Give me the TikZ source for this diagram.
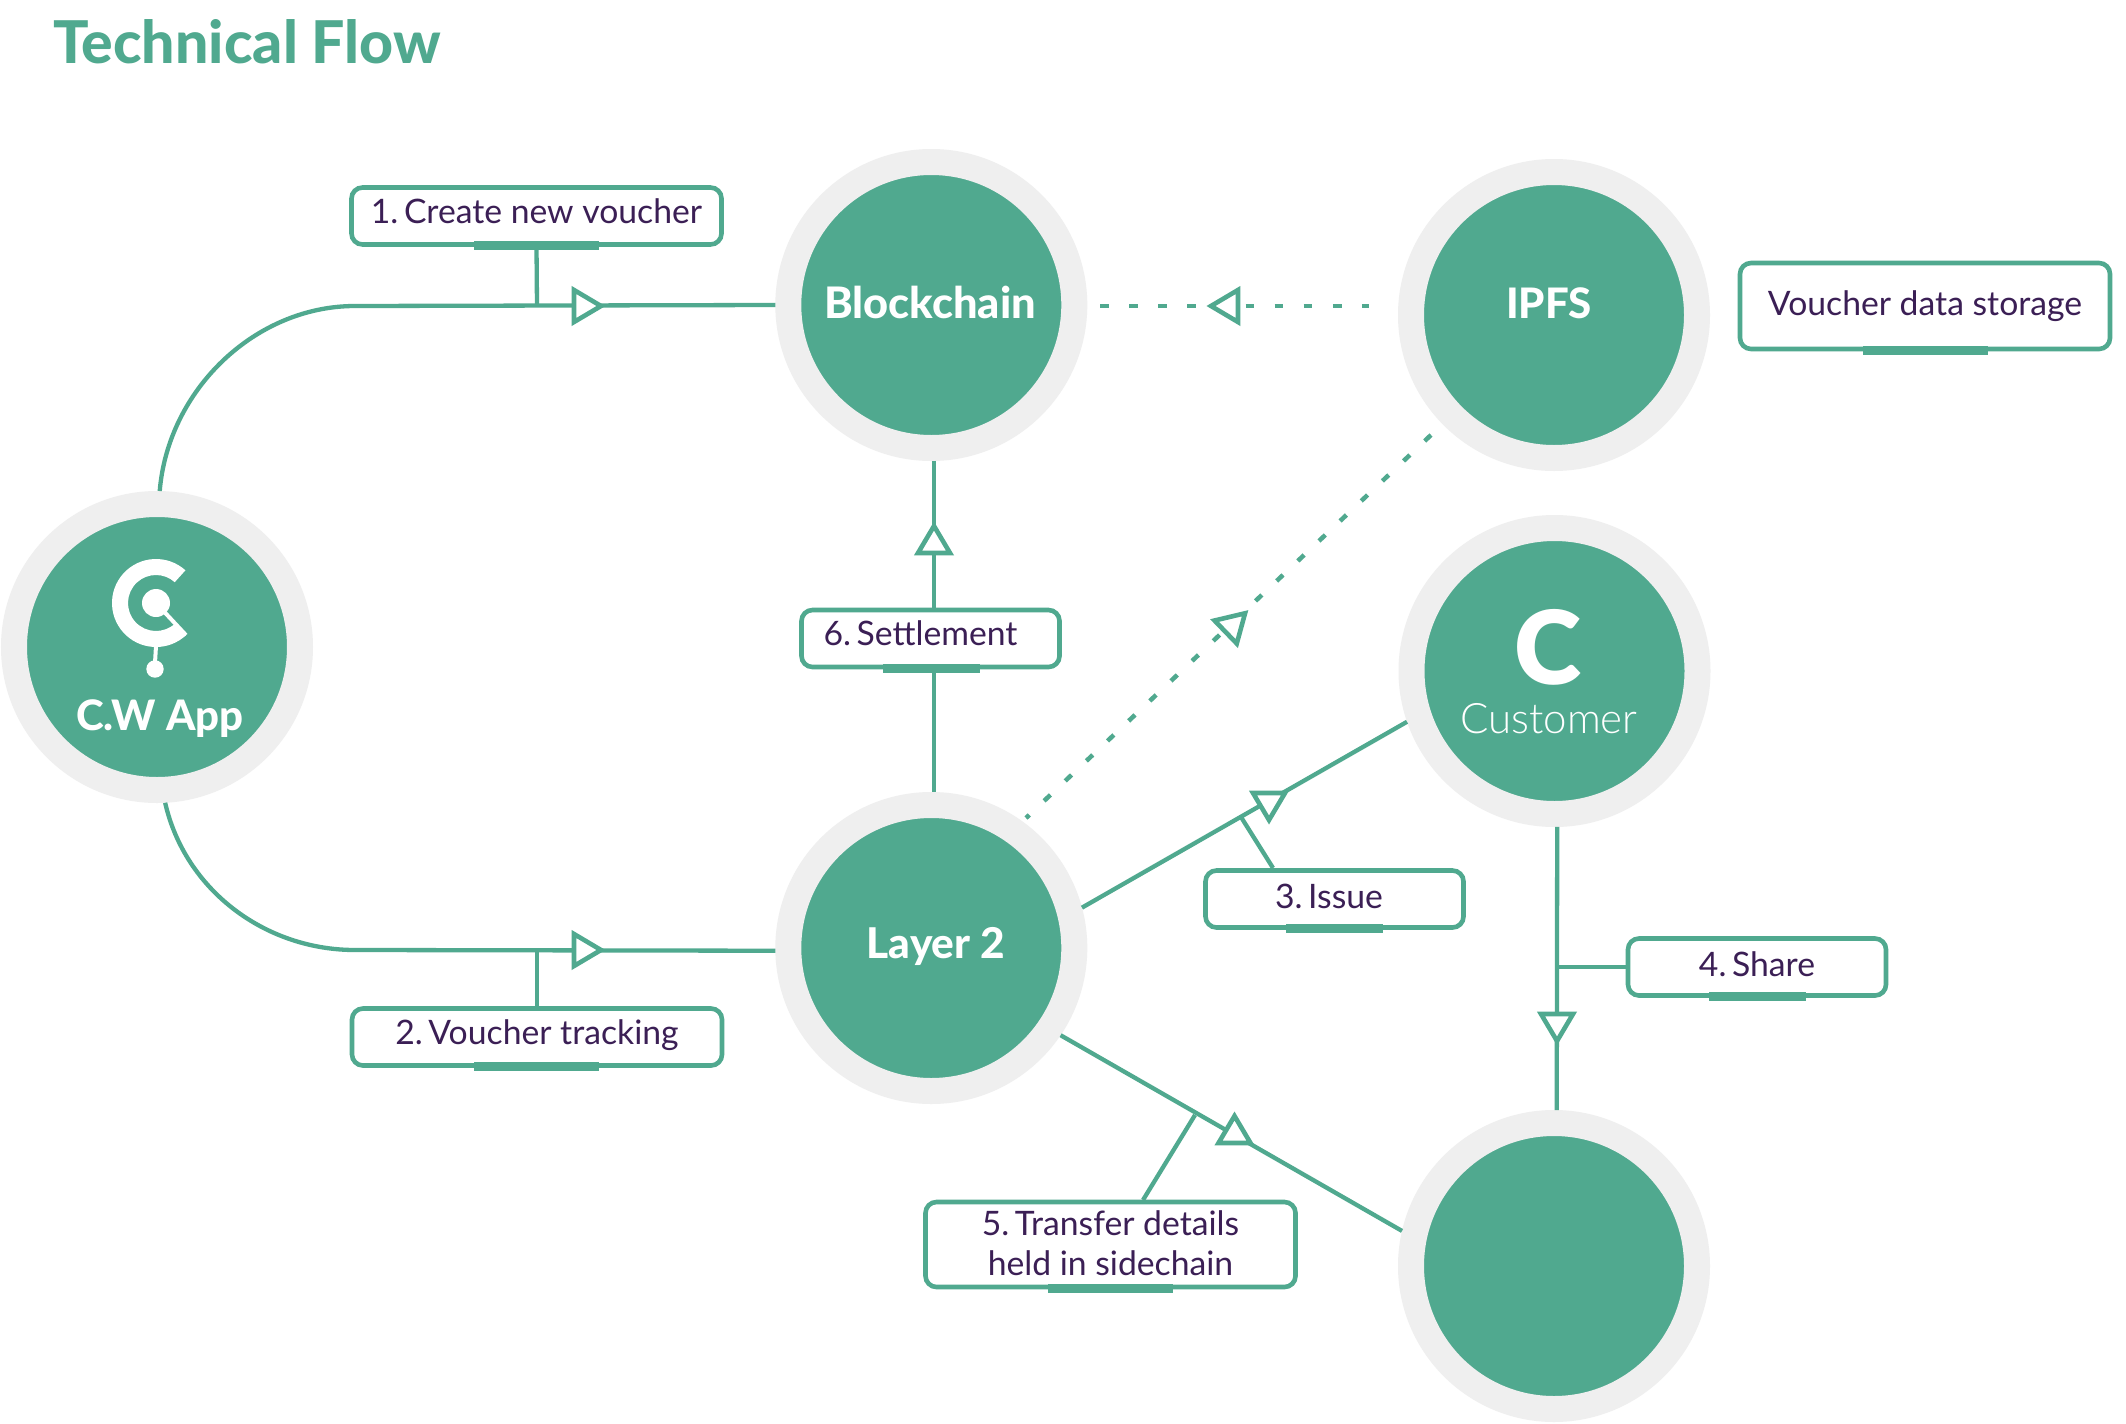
\documentclass[tikz,border=0pt]{standalone}
\usepackage{fontspec}
\setmainfont{Lato}
\newfontfamily\latolight{Lato Light}
\newfontfamily\latoblack{Lato Black}
\newfontfamily\latoheavy{Lato Heavy}
\usetikzlibrary{calc}
\definecolor{grn}{HTML}{50A98F}
\definecolor{ringc}{HTML}{EFEFEF}
\definecolor{ink}{HTML}{3B1F55}
\newcommand\lab[3]{\raisebox{#1}[0pt][0pt]{\makebox[0pt][c]{\hspace{#2}#3}}}
\newcommand\nk{\kern-3pt\ }
\tikzset{
  x=1pt,y=-1pt,
  hub/.style={circle,draw=ringc,fill=grn,line width=26pt,minimum size=286pt,inner sep=0pt,outer sep=.5\pgflinewidth},
  hubtext/.style={text=white,font=\fontsize{42}{42}\selectfont\latoheavy,inner sep=0pt},
  flow/.style={draw=grn,line width=4.3pt},
  dots/.style={draw=grn,line width=4.5pt,dash pattern=on 8.7pt off 20.4pt},
  tag/.style={draw=grn,fill=white,line width=4.6pt,rounded corners=11pt,inner sep=0pt,minimum height=57pt,text=ink,font=\fontsize{33.7}{40}\selectfont},
  tip/.style={draw=grn,fill=white,line width=4.6pt,line join=miter},
  bar/.style={fill=grn},
}
\newcommand\tipat[3]{\draw[tip,shift={(#1,#2)},rotate=#3] (-13pt,-16pt) -- (14pt,0pt) -- (-13pt,16pt) -- cycle;}
\begin{document}
\begin{tikzpicture}
\useasboundingbox (0,0) rectangle (2126,1424);
\fill[white] (0,0) rectangle (2126,1424);
\node[anchor=base west,inner sep=0pt,text=grn,font=\fontsize{59}{59}\selectfont\latoheavy] (title) at (53,63) {Technical Flow};

\node[hub] (cw) at (157,647) {};
\node[hub] (chain) at (931.3,305) {};
\node[hub] (ipfs) at (1554,315) {};
\node[hub] (cust) at (1554.5,671) {};
\node[hub] (l2) at (931.3,948) {};
\node[hub] (dest) at (1554,1266) {};

\node[hubtext,anchor=base,font=\fontsize{43.4}{43.4}\selectfont\latoheavy] (tchain) at (930,318) {Blockchain};
\node[hubtext,anchor=base] (tipfs) at (1549,318) {IPFS};
\node[hubtext,anchor=base,font=\fontsize{42.4}{42.4}\selectfont\latoheavy] (tl2) at (936,958) {Layer 2};
\node[hubtext,anchor=base] (tcw) at (160,730) {C.W App};
\node[anchor=center,inner sep=0pt,text=white,font=\fontsize{102}{102}\selectfont\latoblack] (tc) at (1548,647) {C};
\node[anchor=base,inner sep=0pt,text=white,font=\fontsize{42}{42}\selectfont\latolight] (tcust) at (1549,733) {Customer};

\begin{scope}[shift={(156,603)},x=1pt,y=1pt]
  \fill[white] (48:44pt) arc[start angle=48,end angle=313,radius=44pt] -- (313:28pt) arc[start angle=313,end angle=48,radius=28pt] -- cycle;
  \fill[white] (0,0) circle[radius=14pt];
  \draw[white,line width=4pt] (0,0) -- (313:44pt);
  \draw[white,line width=4pt] (0,-43pt) -- (-1pt,-60pt);
  \fill[white] (-1pt,-66pt) circle[radius=8.7pt];
\end{scope}

\coordinate (s1) at (537,306);
\coordinate (s2) at (537,950);
\coordinate (s3) at (1241,817);
\coordinate (s4) at (1557,967);
\coordinate (s5) at (1195,1115);
\coordinate (da) at (1100,306);
\coordinate (db) at (1369,306);
\coordinate (dc) at (1431,435);
\coordinate (dd) at (1026,818);

\draw[flow] (cw.89) .. controls (168,390) and (255,306) .. (355,306) -- (chain.180);
\draw[flow] (cw.-87) .. controls (185,890) and (265,950) .. (355,950) -- (l2.181);
\draw[flow] (chain.-89) -- (l2.89);
\draw[flow] (l2.15.1) -- (cust.199.5);
\draw[flow] (cust.-89) -- (dest.89);
\draw[flow] (l2.-34) -- (dest.167);
\draw[dots] (da) -- (db);
\draw[dots] (dc) -- (dd);

\node[tag,minimum width=370pt] (n1) at (536.5,216) {\lab{-7pt}{0pt}{1.\nk Create new voucher}};
\node[tag,minimum width=370pt] (n2) at (537,1037) {\lab{-7pt}{0pt}{2.\nk Voucher tracking}};
\node[tag,minimum width=258pt] (n3) at (1334.5,899) {\lab{-9pt}{-11pt}{3.\nk Issue}};
\node[tag,minimum width=258pt] (n4) at (1757,967) {\lab{-9pt}{0pt}{4.\nk Share}};
\node[tag,minimum width=370pt,minimum height=85pt] (n5) at (1110.5,1244.5) {\raisebox{9.5pt}[0pt][0pt]{\makebox[0pt][c]{\def\arraystretch{1}\begin{tabular}[t]{@{}c@{}}5.\nk Transfer details\\held in sidechain\end{tabular}}}};
\node[tag,minimum width=258pt] (n6) at (930.5,638.5) {\lab{-7pt}{-20pt}{6.\nk Settlement}};
\node[tag,minimum width=370pt,minimum height=86pt] (n7) at (1925,306) {\lab{-9pt}{0pt}{Voucher data storage}};

\draw[flow] (s1) -- (n1.south);
\draw[flow] (s2) -- (n2.north);
\draw[flow] (s3) -- (1273,868);
\draw[flow] (s4) -- (n4.west);
\draw[flow] (s5) -- (1143,1200);

\fill[bar] (474,240.5) rectangle (599,250);
\fill[bar] (474,1061.5) rectangle (599,1071);
\fill[bar] (1286,923.5) rectangle (1383,933);
\fill[bar] (1709,991.5) rectangle (1806,1001);
\fill[bar] (1048,1283.5) rectangle (1173,1293);
\fill[bar] (883,663.5) rectangle (980,673);
\fill[bar] (1863,345.5) rectangle (1988,355);

\tipat{587}{306}{0}
\tipat{587}{950}{0}
\tipat{1225}{306}{180}
\tipat{934}{540}{90}
\tipat{1557}{1027}{-90}
\tipat{1235}{623}{44}
\tipat{1269}{806}{-90}
\tipat{1234.5}{1130}{90}
\end{tikzpicture}
\end{document}
